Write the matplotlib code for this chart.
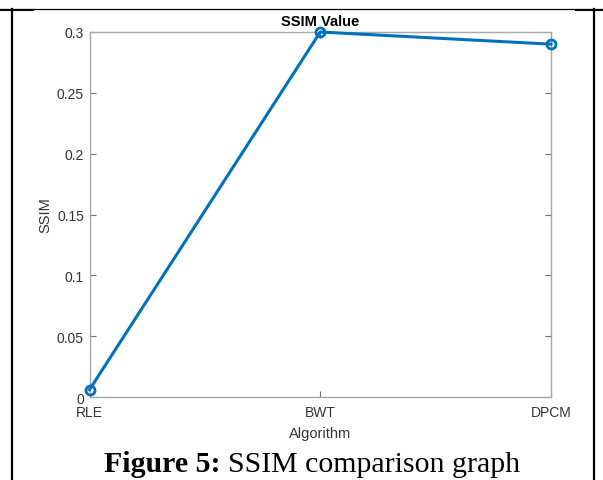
import matplotlib
matplotlib.use("Agg")
import matplotlib.pyplot as plt
from matplotlib.lines import Line2D

categories = ["RLE", "BWT", "DPCM"]
ssim_values = [0.006, 0.300, 0.290]
yticks = [0, 0.05, 0.1, 0.15, 0.2, 0.25, 0.3]
ytick_labels = ["0", "0.05", "0.1", "0.15", "0.2", "0.25", "0.3"]

W, H = 603, 481
fig = plt.figure(figsize=(W / 100, H / 100), dpi=100)
fig.patch.set_facecolor("white")

ax = fig.add_axes([89.5 / W, 1 - 398 / H, (551 - 89.5) / W, (398 - 33) / H])
x = list(range(len(categories)))
ax.plot(x, ssim_values, color="#0072BD", linewidth=2.2, marker="o",
        markersize=6.5, markerfacecolor="none", markeredgewidth=2.0,
        markeredgecolor="#0072BD", clip_on=False, zorder=3)
ax.set_xlim(0, 2)
ax.set_ylim(0, 0.3)
ax.set_xticks(x)
ax.set_xticklabels(categories)
ax.set_yticks(yticks)
ax.set_yticklabels(ytick_labels)

fam = ["Liberation Sans", "DejaVu Sans"]
for lab in ax.get_xticklabels() + ax.get_yticklabels():
    lab.set_fontfamily(fam)
    lab.set_fontsize(10)
    lab.set_color("#333333")

for sp in ax.spines.values():
    sp.set_color("#a8a8a8")
    sp.set_linewidth(1.0)
ax.tick_params(direction="in", length=4, color="#707070", top=True, right=True,
               pad=4)
ax.tick_params(axis="x", pad=6)

ax.set_title("SSIM Value", fontsize=10.5, fontweight="bold",
             family=fam, color="black", pad=5)
ax.set_ylabel("SSIM", fontsize=10.5, family=fam, color="#333333", labelpad=3)
ax.set_xlabel("Algorithm", fontsize=10.5, family=fam, color="#333333", labelpad=5)

# caption
cap_y = 1 - 465 / H
serif = ["Liberation Serif", "DejaVu Serif"]
t1 = fig.text(0, cap_y, "Figure 5: ", fontsize=21.5, fontweight="bold",
              family=serif, va="center")
t2 = fig.text(0, cap_y, "SSIM comparison graph", fontsize=21.5,
              family=serif, va="center")
fig.canvas.draw()
r = fig.canvas.get_renderer()
w1 = t1.get_window_extent(r).width
w2 = t2.get_window_extent(r).width
start = 312 - (w1 + w2) / 2
t1.set_x(start / W)
t2.set_x((start + w1) / W)

# table borders
def hline(x0, x1, y, lw):
    fig.add_artist(Line2D([x0 / W, x1 / W], [1 - y / H, 1 - y / H], color="black", lw=lw))

def vline(xp, y0, y1, lw):
    fig.add_artist(Line2D([xp / W, xp / W], [1 - y0 / H, 1 - y1 / H], color="black", lw=lw))

hline(0, 603, 9.5, 0.9)
hline(0, 33, 10.5, 1.5)
hline(576, 603, 10.5, 1.5)
vline(11.5, 10, 481, 1.6)
vline(593.5, 10, 481, 1.6)

fig.savefig("out.png", dpi=100, facecolor="white")
